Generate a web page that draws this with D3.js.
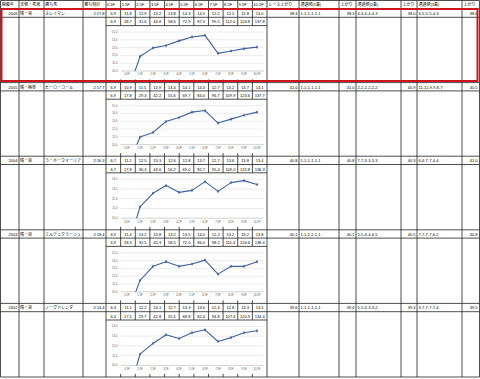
<!DOCTYPE html>
<html>
<head>
<meta charset="utf-8">
<script src="https://cdn.jsdelivr.net/npm/d3@7"></script>
<style>
  body { margin: 0; background: #fff; }
  svg { display: block; }
  text { font-family: "Liberation Sans", "Noto Sans CJK JP", sans-serif; }
</style>
</head>
<body>
<div id="sheet"></div>
<script>
// sheet data
const leftHeaders = ["開催年", "天候・馬場", "勝ち馬", "勝ち時計"];
const furlongs = ["0.5F", "1.5F", "2.5F", "3.5F", "4.5F", "5.5F", "6.5F", "7.5F", "8.5F", "9.5F", "10.5F"];
const rightHeaders = ["レース上がり", "通過順(1着)", "上がり", "通過順(2着)", "上がり", "通過順(3着)", "上がり"];

const years = ["2006", "2005", "2004", "2003", "2002"];
const conditions = ["晴・良", "晴・稍重", "晴・良", "晴・良", "晴・良"];
const winners = ["スレイマン", "ヒーローコール", "ラ・ホ・ウォーリア", "エルデュクラージュ", "ノーヴァレンダ"];
const times = ["2:17.8", "2:17.7", "2:16.3", "2:18.4", "2:14.4"];

const laps = [
  [6.9, 11.8, 12.9, 13.2, 13.8, 14.3, 14.5, 12.2, 12.5, 12.8, 13.0],
  [6.9, 10.9, 11.5, 12.9, 13.4, 14.1, 14.3, 12.7, 13.2, 13.7, 14.1],
  [6.7, 11.1, 12.5, 13.3, 12.6, 12.8, 13.7, 12.7, 13.6, 13.8, 13.4],
  [6.9, 11.4, 13.2, 13.8, 13.2, 13.5, 14.0, 12.2, 13.2, 13.2, 13.8],
  [6.4, 11.1, 12.2, 13.1, 12.7, 13.3, 13.6, 12.4, 12.8, 13.3, 13.5]
];
const totals = [
  [6.9, 18.7, 31.6, 44.8, 58.6, 72.9, 87.3, 99.5, 112.0, 124.8, 137.8],
  [6.9, 17.8, 29.3, 42.2, 55.6, 69.7, 84.0, 96.7, 109.9, 123.6, 137.7],
  [6.7, 17.8, 30.3, 43.6, 56.2, 69.0, 82.7, 95.4, 109.0, 122.8, 136.3],
  [6.9, 18.3, 31.5, 45.3, 58.5, 72.0, 86.0, 98.2, 111.4, 124.6, 138.4],
  [6.4, 17.5, 29.7, 42.8, 55.5, 68.8, 82.4, 94.8, 107.6, 120.9, 134.4]
];
const yTop = [15, 15, 14, 15, 14];

const raceAgari = ["38.3", "41.0", "40.8", "40.1", "39.6"];
const pass1 = ["1-1-1-1-1-1", "1-1-1-1-1-1", "1-1-1-1-1-1", "1-1-2-2-1-1", "1-1-1-1-1-1"];
const agari1 = ["38.3", "41.0", "40.8", "40.1", "39.6"];
const pass2 = ["4-4-4-4-4-3", "2-2-2-2-2-2", "7-7-3-3-3-3", "5-5-4-4-4-5", "5-5-4-3-3-2"];
const agari2 = ["38.0", "40.9", "40.3", "40.5", "39.3"];
const pass3 = ["4-5-5-5-4-3", "11-11-9-9-8-7", "6-6-7-7-4-4", "7-7-7-7-6-2", "3-7-7-7-7-4"];
const agari3 = ["38.0", "40.5", "41.0", "40.8", "39.5"];

// layout
const w = 480, h = 379;
const headerH = 9, rowH = 73.6, subH = 8.3;
const rowTop = i => headerH + i * rowH;
const tableBottom = rowTop(years.length);
const leftCols = [0.5, 19, 44, 83, 106];
const rightCols = [267, 299, 339, 356, 401, 417, 462, 479.5];
const lineColor = "#41629e";
const fmt = d3.format(".1f");

const svg = d3.select("#sheet").append("svg").attr("width", w).attr("height", h);

// lap cells
const cell = d3.scaleBand().domain(furlongs).range([106, 267]);

// grid lines
const grid = svg.append("g").attr("stroke", "#222").attr("stroke-width", 0.8);
const hLine = (y, x1, x2) => grid.append("line").attr("x1", x1).attr("x2", x2).attr("y1", y).attr("y2", y);
const vLine = (x, y1, y2) => grid.append("line").attr("x1", x).attr("x2", x).attr("y1", y1).attr("y2", y2);

hLine(0.5, 0.5, 479.5);
hLine(tableBottom, 0.5, 479.5);
leftCols.concat(rightCols).forEach(x => vLine(x, 0.5, tableBottom));
furlongs.slice(1).forEach(f => vLine(cell(f), 0.5, headerH));

years.forEach((yr, i) => {
  const top = rowTop(i);
  hLine(top, 0.5, 479.5);
  hLine(top + subH, 0.5, 479.5);
  hLine(top + 2 * subH, 106, 267);
  furlongs.slice(1).forEach(f => {
    vLine(cell(f), top, top + 2 * subH);
    vLine(cell(f), top + 70.5, top + rowH);
  });
});

// header texts
const txt = svg.append("g").attr("fill", "#000").attr("font-size", 4);
leftHeaders.forEach((t, k) => {
  txt.append("text").attr("x", leftCols[k] + 1.2).attr("y", 6.3).text(t);
});
furlongs.forEach(f => {
  txt.append("text").attr("x", cell(f) + 1).attr("y", 6.3).text(f);
});
rightHeaders.forEach((t, k) => {
  txt.append("text").attr("x", rightCols[k] + 1.5).attr("y", 6.3).text(t);
});

// row texts
years.forEach((yr, i) => {
  const top = rowTop(i);
  const b1 = top + 6, b2 = top + subH + 6;
  txt.append("text").attr("x", 17.5).attr("y", b1).attr("text-anchor", "end").text(yr);
  txt.append("text").attr("x", 20).attr("y", b1).text(conditions[i]);
  txt.append("text").attr("x", 45).attr("y", b1).text(winners[i]);
  txt.append("text").attr("x", 104.5).attr("y", b1).attr("text-anchor", "end").text(times[i]);

  furlongs.forEach((f, j) => {
    const cx = cell(f) + cell.bandwidth() / 2;
    txt.append("text").attr("x", cx).attr("y", b1).attr("text-anchor", "middle").text(fmt(laps[i][j]));
    txt.append("text").attr("x", cx).attr("y", b2).attr("text-anchor", "middle").text(fmt(totals[i][j]));
  });

  txt.append("text").attr("x", 297.5).attr("y", b1).attr("text-anchor", "end").text(raceAgari[i]);
  txt.append("text").attr("x", 300.5).attr("y", b1).text(pass1[i]);
  txt.append("text").attr("x", 354.5).attr("y", b1).attr("text-anchor", "end").text(agari1[i]);
  txt.append("text").attr("x", 357.5).attr("y", b1).text(pass2[i]);
  txt.append("text").attr("x", 415.5).attr("y", b1).attr("text-anchor", "end").text(agari2[i]);
  txt.append("text").attr("x", 418.5).attr("y", b1).text(pass3[i]);
  txt.append("text").attr("x", 477.5).attr("y", b1).attr("text-anchor", "end").text(agari3[i]);
});

// lap charts
const x = d3.scaleBand().domain(furlongs).range([120.5, 263.5]);
const px = f => x(f) + x.bandwidth() / 2;

years.forEach((yr, i) => {
  const top = rowTop(i);
  const y = d3.scaleLinear().domain([10, yTop[i]]).range([top + 61.5, top + 22.5]);
  const chart = svg.append("g");

  chart.append("clipPath").attr("id", "clip" + i)
    .append("rect").attr("x", 120.5).attr("y", top + 22).attr("width", 143).attr("height", 40);

  const yAxis = d3.axisLeft(y)
    .tickValues(d3.range(10, yTop[i] + 0.5, 1))
    .tickFormat(fmt)
    .tickSize(-143)
    .tickPadding(3);
  const ya = chart.append("g").attr("transform", "translate(120.5,0)").call(yAxis);
  ya.select(".domain").remove();
  ya.selectAll("line").attr("stroke", "#d9d9d9").attr("stroke-width", 0.5);
  ya.selectAll("text").attr("fill", "#595959").attr("font-size", 2.8);

  const xa = chart.append("g").attr("transform", `translate(0,${top + 61.5})`)
    .call(d3.axisBottom(x).tickSize(0).tickPadding(3));
  xa.select(".domain").attr("stroke", "#bfbfbf").attr("stroke-width", 0.5);
  xa.selectAll("text").attr("fill", "#595959").attr("font-size", 2.8);

  const line = d3.line().x((d, j) => px(furlongs[j])).y(d => y(d));
  const plot = chart.append("g").attr("clip-path", `url(#clip${i})`);
  plot.append("path")
    .datum(laps[i])
    .attr("fill", "none")
    .attr("stroke", lineColor)
    .attr("stroke-width", 1.1)
    .attr("stroke-linejoin", "round")
    .attr("d", line);
  plot.selectAll(".pt").data(laps[i]).join("path")
    .attr("class", "pt")
    .attr("transform", (d, j) => `translate(${px(furlongs[j])},${y(d)})`)
    .attr("d", d3.symbol(d3.symbolDiamond, 4))
    .attr("fill", lineColor);
});

// highlight of the latest year
svg.append("rect")
  .attr("x", 1.5).attr("y", rowTop(0))
  .attr("width", 476).attr("height", rowH - 1.6)
  .attr("fill", "none")
  .attr("stroke", "#d0141e")
  .attr("stroke-width", 2);
</script>
</body>
</html>
